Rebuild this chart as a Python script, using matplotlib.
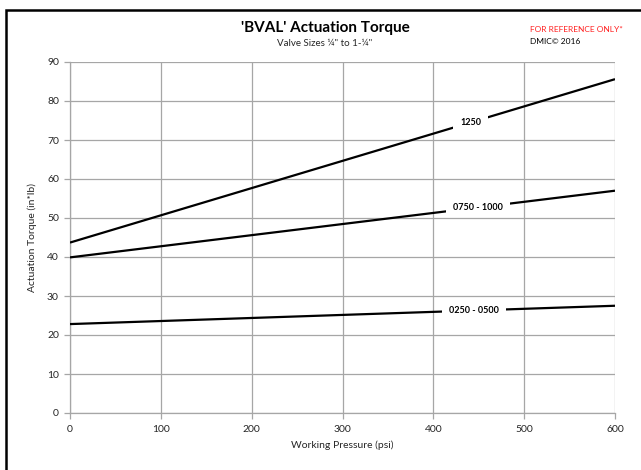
import numpy as np
import matplotlib
matplotlib.use("Agg")
import matplotlib.pyplot as plt
from matplotlib.patches import Rectangle

plt.rcParams['font.family'] = ['Lato', 'DejaVu Sans']

pressure = [0, 600]
series_names = ["1250", "0750 - 1000", "0250 - 0500"]
torque_1250 = [43.7, 85.6]
torque_0750_1000 = [39.9, 57.0]
torque_0250_0500 = [22.8, 27.5]
x_ticks = [0, 100, 200, 300, 400, 500, 600]
y_ticks = [0, 10, 20, 30, 40, 50, 60, 70, 80, 90]

fig = plt.figure(figsize=(6.41, 4.70), dpi=100)
W, H = 641, 470
ax = fig.add_axes([70 / W, (H - 413) / H, 545 / W, 351 / H])

grid_c = '#a6a6a6'
series = [torque_1250, torque_0750_1000, torque_0250_0500]
label_x = [441, 449, 445]
for name, vals, lx in zip(series_names, series, label_x):
    ax.plot(pressure, vals, color='black', lw=1.6, solid_capstyle='butt', zorder=3)
    ly = np.interp(lx, pressure, vals)
    ax.text(lx, ly, name, ha='center', va='center', fontsize=6.5, fontweight='bold',
            bbox=dict(facecolor='white', edgecolor='none', pad=5, mutation_aspect=0.4), zorder=4)

ax.set_xlim(0, 600)
ax.set_ylim(0, 90)
ax.set_xticks(x_ticks)
ax.set_yticks(y_ticks)
ax.grid(True, color=grid_c, lw=0.9)
ax.set_axisbelow(True)
for s in ['top', 'right']:
    ax.spines[s].set_visible(False)
for s in ['left', 'bottom']:
    ax.spines[s].set_color(grid_c)
    ax.spines[s].set_linewidth(0.9)
ax.tick_params(axis='both', colors=grid_c, labelcolor='#262626', labelsize=7.5, length=4, width=0.9)
ax.tick_params(axis='x', pad=5)
ax.tick_params(axis='y', pad=4)
ax.set_xlabel('Working Pressure (psi)', fontsize=7.5, color='#262626', labelpad=4)
ax.set_ylabel('Actuation Torque (in*lb)', fontsize=7.5, color='#262626', labelpad=7)

fig.text(325 / W, 1 - 28 / H, "'BVAL' Actuation Torque", ha='center', va='center',
         fontsize=11, fontweight='bold', color='black')
fig.text(325 / W, 1 - 44 / H, 'Valve Sizes ¼" to 1-¼"', ha='center', va='center',
         fontsize=7, color='#262626')
fig.text(530 / W, 1 - 30 / H, 'FOR REFERENCE ONLY*', ha='left', va='center',
         fontsize=6, color='#ff2020')
fig.text(530 / W, 1 - 42 / H, 'DMIC© 2016', ha='left', va='center',
         fontsize=6, color='black')

fig.patches.append(Rectangle((6 / W, -0.05), 1.1, 1 - 10 / H + 0.05, transform=fig.transFigure,
                             fill=False, edgecolor='black', lw=1.8))

fig.savefig('out.png', dpi=100)
